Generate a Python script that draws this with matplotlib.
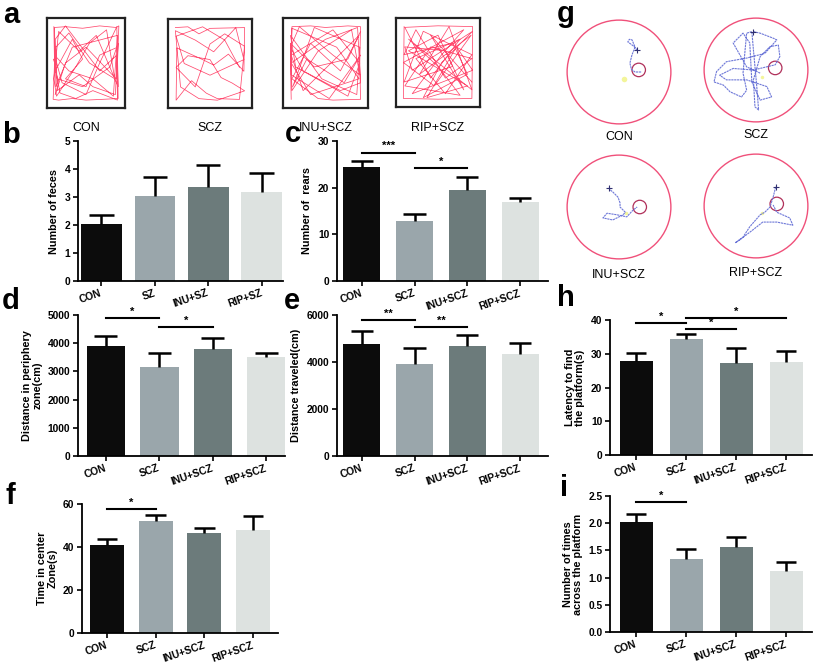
import numpy as np
import matplotlib
matplotlib.use('Agg')
from matplotlib import pyplot as plt
from matplotlib.patches import Circle

plt.rcParams['font.family'] = ['Liberation Sans', 'DejaVu Sans']

W, H = 817, 663

# ---- data -------------------------------------------------------------
groups_sz = ['CON', 'SZ', 'INU+SZ', 'RIP+SZ']
groups = ['CON', 'SCZ', 'INU+SCZ', 'RIP+SCZ']
bar_colors = ['#0c0c0c', '#9aa6ab', '#6c7b7b', '#dde2e0']

feces_mean = [2.02, 3.03, 3.35, 3.18]
feces_err = [0.33, 0.67, 0.80, 0.67]

rears_mean = [24.5, 12.8, 19.5, 17.0]
rears_err = [1.3, 1.6, 2.8, 0.7]

periphery_mean = [3900, 3150, 3800, 3500]
periphery_err = [350, 500, 370, 150]

traveled_mean = [4750, 3920, 4680, 4350]
traveled_err = [560, 690, 450, 460]

center_mean = [41.0, 52.0, 46.7, 48.0]
center_err = [2.6, 3.0, 2.0, 6.6]

latency_mean = [27.8, 34.5, 27.2, 27.5]
latency_err = [2.4, 1.4, 4.4, 3.4]

crossings_mean = [2.02, 1.35, 1.57, 1.12]
crossings_err = [0.14, 0.18, 0.18, 0.17]

# open-field tracks (unit square, rough waypoints)
track_con_x = [0.03, 0.04, 0.02, 0.10, 0.30, 0.50, 0.75, 0.97, 0.96, 0.98, 0.94, 0.70, 0.45, 0.20,
               0.04, 0.05, 0.30, 0.45, 0.20, 0.50, 0.70, 0.96, 0.93, 0.60, 0.40, 0.08, 0.06, 0.25,
               0.55, 0.92, 0.80, 0.55, 0.35, 0.07, 0.03, 0.10, 0.40, 0.65, 0.97, 0.95, 0.70, 0.50,
               0.15, 0.04, 0.25, 0.60, 0.90, 0.96, 0.30, 0.06, 0.05, 0.20, 0.70, 0.95, 0.96, 0.60,
               0.35, 0.12, 0.03, 0.08, 0.45, 0.85, 0.97, 0.94, 0.50, 0.20, 0.05]
track_con_y = [0.96, 0.50, 0.04, 0.03, 0.05, 0.03, 0.04, 0.05, 0.50, 0.97, 0.95, 0.97, 0.94, 0.96,
               0.95, 0.40, 0.80, 0.55, 0.30, 0.20, 0.60, 0.70, 0.10, 0.20, 0.35, 0.15, 0.70, 0.88,
               0.50, 0.30, 0.92, 0.75, 0.45, 0.08, 0.30, 0.90, 0.65, 0.85, 0.20, 0.96, 0.50, 0.10,
               0.25, 0.60, 0.40, 0.30, 0.08, 0.85, 0.70, 0.20, 0.80, 0.97, 0.40, 0.60, 0.03, 0.15,
               0.05, 0.12, 0.55, 0.30, 0.20, 0.45, 0.75, 0.30, 0.70, 0.50, 0.10]
track_scz_x = [0.03, 0.20, 0.35, 0.50, 0.97, 0.96, 0.75, 0.55, 0.40, 0.05, 0.04, 0.25, 0.45, 0.60,
               0.90, 0.97, 0.70, 0.50, 0.30, 0.04, 0.20, 0.50, 0.65, 0.80, 0.97, 0.60, 0.35, 0.10,
               0.03, 0.30, 0.55, 0.85, 0.96, 0.50, 0.15, 0.04, 0.40, 0.70, 0.90]
track_scz_y = [0.96, 0.97, 0.88, 0.95, 0.96, 0.40, 0.62, 0.48, 0.55, 0.70, 0.03, 0.28, 0.12, 0.05,
               0.04, 0.72, 0.88, 0.75, 0.20, 0.45, 0.60, 0.55, 0.32, 0.25, 0.15, 0.03, 0.05, 0.20,
               0.92, 0.80, 0.65, 0.96, 0.55, 0.35, 0.50, 0.85, 0.97, 0.80, 0.45]
track_inu_x = [0.04, 0.03, 0.05, 0.30, 0.50, 0.80, 0.97, 0.96, 0.97, 0.60, 0.40, 0.05, 0.30, 0.70,
               0.95, 0.20, 0.04, 0.60, 0.96, 0.80, 0.10, 0.03, 0.45, 0.92, 0.96, 0.35, 0.06, 0.25,
               0.75, 0.97, 0.55, 0.04, 0.05, 0.65, 0.95, 0.30, 0.04, 0.50, 0.93, 0.97, 0.70, 0.20,
               0.03, 0.15, 0.60, 0.96, 0.85, 0.40, 0.05, 0.03, 0.35, 0.80, 0.97]
track_inu_y = [0.04, 0.50, 0.96, 0.97, 0.95, 0.97, 0.96, 0.50, 0.04, 0.03, 0.05, 0.30, 0.75, 0.40,
               0.85, 0.15, 0.60, 0.92, 0.50, 0.08, 0.45, 0.85, 0.30, 0.10, 0.70, 0.95, 0.20, 0.55,
               0.25, 0.60, 0.05, 0.35, 0.94, 0.70, 0.30, 0.10, 0.50, 0.80, 0.95, 0.25, 0.15, 0.40,
               0.70, 0.96, 0.60, 0.35, 0.92, 0.65, 0.15, 0.75, 0.45, 0.55, 0.90]
track_rip_x = [0.04, 0.03, 0.50, 0.96, 0.97, 0.50, 0.05, 0.40, 0.80, 0.20, 0.60, 0.96, 0.30, 0.04,
               0.70, 0.50, 0.10, 0.90, 0.35, 0.75, 0.97, 0.15, 0.55, 0.85, 0.03, 0.45, 0.95, 0.25,
               0.65, 0.96, 0.10, 0.50, 0.80, 0.05, 0.40, 0.96, 0.60, 0.20, 0.04, 0.70, 0.90, 0.30,
               0.55, 0.97, 0.15, 0.05, 0.60, 0.85, 0.40, 0.96]
track_rip_y = [0.96, 0.04, 0.03, 0.04, 0.96, 0.97, 0.95, 0.30, 0.80, 0.55, 0.10, 0.60, 0.90, 0.25,
               0.45, 0.85, 0.65, 0.20, 0.05, 0.70, 0.40, 0.10, 0.60, 0.92, 0.50, 0.20, 0.85, 0.35,
               0.96, 0.15, 0.80, 0.45, 0.08, 0.20, 0.70, 0.55, 0.30, 0.92, 0.60, 0.75, 0.35, 0.05,
               0.50, 0.90, 0.40, 0.70, 0.65, 0.15, 0.85, 0.25]

# water maze swim paths (units of pool radius, pool centre at 0,0)
swim_con_x = [0.35, 0.28, 0.17, 0.20, 0.25, 0.31, 0.25, 0.21, 0.24, 0.31, 0.44]
swim_con_y = [0.42, 0.50, 0.58, 0.63, 0.62, 0.48, 0.33, 0.17, 0.05, 0.0, 0.0]
swim_scz_x = [-0.05, 0.08, 0.34, 0.40, 0.17, -0.18, -0.57, -0.76, -0.81, -0.63, -0.50, -0.28, -0.18,
              -0.25, -0.21, -0.18, -0.08, -0.05, 0.01, 0.05, -0.02, -0.05, 0.08, 0.27, 0.43, 0.46,
              0.37, -0.05, -0.44, -0.70, -0.57, -0.18, 0.21, 0.30, 0.08, -0.08, -0.12, -0.25, -0.44,
              -0.18, 0.08]
swim_scz_y = [0.74, 0.71, 0.61, 0.58, 0.32, 0.23, 0.16, -0.03, -0.23, -0.29, -0.42, -0.52, -0.39,
              -0.06, 0.39, 0.71, 0.74, 0.39, -0.26, -0.77, -0.71, -0.19, 0.26, 0.45, 0.48, 0.26,
              0.10, 0.0, 0.03, -0.10, -0.19, -0.19, -0.32, -0.52, -0.58, -0.23, 0.52, 0.71, 0.52,
              0.06, -0.06]
swim_inu_x = [-0.20, -0.17, -0.12, -0.02, 0.02, 0.02, 0.12, 0.08, -0.12, -0.31, -0.23, -0.04, 0.15,
              0.27, 0.35]
swim_inu_y = [0.37, 0.33, 0.29, 0.19, 0.08, 0.0, -0.10, -0.15, -0.25, -0.21, -0.12, -0.15, -0.19,
              -0.06, 0.0]
swim_rip_x = [0.38, 0.33, 0.27, 0.17, 0.08, -0.12, -0.25, -0.40, -0.31, -0.06, 0.13, 0.40, 0.71,
              0.65, 0.40, 0.33]
swim_rip_y = [0.37, 0.17, -0.02, -0.12, -0.17, -0.40, -0.60, -0.71, -0.65, -0.46, -0.31, -0.31,
              -0.37, -0.23, -0.12, 0.02]
platform_x = [0.38, 0.37, 0.40, 0.40]
platform_y = [0.04, 0.04, 0.0, 0.04]
yellow_x = [0.10, 0.12, 0.13, 0.12]
yellow_y = [-0.13, -0.13, -0.12, -0.13]


fig = plt.figure(figsize=(W / 100, H / 100), dpi=100)


def px_axes(x0, y0, x1, y1):
    return fig.add_axes([x0 / W, 1 - y1 / H, (x1 - x0) / W, (y1 - y0) / H])


def panel_letter(x, y, s):
    fig.text(x / W, 1 - y / H, s, fontsize=21, fontweight='bold', va='baseline', ha='left')


def bar_panel(ax, labels, means, errs, ylim, yticks, ylabel, xlim, width, sigs=(), fmt=None):
    x = np.arange(len(means))
    means = np.asarray(means)
    errs = np.asarray(errs)
    ax.bar(x, means, width=width, color=bar_colors, edgecolor='none', zorder=2)
    ax.vlines(x, means, means + errs, color='black', lw=1.8, zorder=3)
    ax.hlines(means + errs, x - width * 0.3, x + width * 0.3, color='black', lw=1.8, zorder=3)
    for i, j, y, s in sigs:
        ax.plot([i, j], [y, y], color='black', lw=1.5, clip_on=False)
        ax.text((i + j) / 2, y + (ylim[1] - ylim[0]) * 0.01, s, ha='center', va='bottom',
                fontsize=8, fontweight='bold')
    ax.set_xlim(*xlim)
    ax.set_ylim(*ylim)
    ax.set_yticks(yticks)
    if fmt:
        ax.set_yticklabels([fmt.format(t) for t in yticks])
    ax.set_xticks(x)
    ax.set_xticklabels(labels, rotation=19, ha='right', va='center', rotation_mode='anchor')
    ax.set_ylabel(ylabel, fontsize=7.8, fontweight='bold', linespacing=1.0)
    for sp in ['top', 'right']:
        ax.spines[sp].set_visible(False)
    for sp in ['left', 'bottom']:
        ax.spines[sp].set_linewidth(1.3)
    ax.tick_params(axis='both', width=1.2, length=3.5, labelsize=7.4, pad=2)
    ax.tick_params(axis='x', pad=5)
    for lab in ax.get_xticklabels() + ax.get_yticklabels():
        lab.set_fontweight('bold')
    ax.patch.set_alpha(0)


# ---- panel a: open-field tracks --------------------------------------
tracks = [(track_con_x, track_con_y), (track_scz_x, track_scz_y),
          (track_inu_x, track_inu_y), (track_rip_x, track_rip_y)]
boxes_a = [(47, 18, 125, 108), (168, 19, 252, 108), (283, 18, 368, 108), (396, 18, 480, 107)]
for (tx, ty), (x0, y0, x1, y1), name in zip(tracks, boxes_a, groups):
    ax = px_axes(x0, y0, x1, y1)
    ax.plot(tx, ty, color='#ff2a55', lw=0.55, alpha=0.85)
    ax.set_xlim(-0.07, 1.07)
    ax.set_ylim(-0.07, 1.07)
    ax.set_xticks([])
    ax.set_yticks([])
    for sp in ax.spines.values():
        sp.set_linewidth(1.6)
        sp.set_color('#222222')
    fig.text((x0 + x1) / 2 / W, 1 - 128 / H, name, ha='center', va='center', fontsize=9)

# ---- panel g: water maze ---------------------------------------------
swims = [(swim_con_x, swim_con_y), (swim_scz_x, swim_scz_y),
         (swim_inu_x, swim_inu_y), (swim_rip_x, swim_rip_y)]
centres_g = [(619, 72), (756, 70), (619, 207), (756, 206)]
label_y_g = [137, 135, 275, 273]
for k, ((sx, sy), (cx, cy)) in enumerate(zip(swims, centres_g)):
    r = 55
    ax = px_axes(cx - r, cy - r, cx + r, cy + r)
    ax.set_xlim(-1.06, 1.06)
    ax.set_ylim(-1.06, 1.06)
    ax.axis('off')
    ax.add_patch(Circle((0, 0), 1.0, fill=False, ec='#f0507a', lw=1.0))
    ax.add_patch(Circle((platform_x[k], platform_y[k]), 0.13, fill=False, ec='#b0305a', lw=0.9))
    ax.plot(yellow_x[k], yellow_y[k], 'o', color='#f3f59a', ms=4 if k == 0 else 2.5, mec='none')
    ax.plot(sx, sy, color='#6e78d8', lw=0.8, ls=(0, (2, 0.6)))
    ax.plot(sx[0], sy[0], '+', color='#303070', ms=4, mew=0.8)
    fig.text(cx / W, 1 - label_y_g[k] / H, groups[k], ha='center', va='center', fontsize=9)

# ---- bar panels ------------------------------------------------------
ax_b = px_axes(78, 141, 283, 281)
bar_panel(ax_b, groups_sz, feces_mean, feces_err, (0, 5), [0, 1, 2, 3, 4, 5],
          'Number of feces', (-0.44, 3.4), 0.76)

ax_c = px_axes(337, 141, 548, 281)
bar_panel(ax_c, groups, rears_mean, rears_err, (0, 30), [0, 10, 20, 30],
          'Number of  rears', (-0.47, 3.53), 0.7,
          sigs=[(0, 1, 27.5, '***'), (1, 2, 24.2, '*')])

ax_d = px_axes(78, 315, 285, 456)
bar_panel(ax_d, groups, periphery_mean, periphery_err, (0, 5000), [0, 1000, 2000, 3000, 4000, 5000],
          'Distance in periphery\nzone(cm)', (-0.52, 3.35), 0.72,
          sigs=[(0, 1, 4880, '*'), (1, 2, 4560, '*')])

ax_e = px_axes(337, 315, 548, 456)
bar_panel(ax_e, groups, traveled_mean, traveled_err, (0, 6000), [0, 2000, 4000, 6000],
          'Distance traveled(cm)', (-0.47, 3.53), 0.7,
          sigs=[(0, 1, 5790, '**'), (1, 2, 5490, '**')])

ax_f = px_axes(82, 504, 278, 633)
bar_panel(ax_f, groups, center_mean, center_err, (0, 60), [0, 20, 40, 60],
          'Time in center\nZone(s)', (-0.51, 3.51), 0.7,
          sigs=[(0, 1, 57.7, '*')])

ax_h = px_axes(610, 320, 812, 455)
bar_panel(ax_h, groups, latency_mean, latency_err, (0, 40), [0, 10, 20, 30, 40],
          'Latency to find\nthe platform(s)', (-0.52, 3.52), 0.66,
          sigs=[(0, 1, 39.2, '*'), (1, 3, 40.6, '*'), (1, 2, 37.3, '*')])

ax_i = px_axes(610, 496, 812, 632)
bar_panel(ax_i, groups, crossings_mean, crossings_err, (0, 2.5), [0, 0.5, 1.0, 1.5, 2.0, 2.5],
          'Number of times\nacross the platform', (-0.52, 3.52), 0.66,
          sigs=[(0, 1, 2.39, '*')], fmt='{:.1f}')

# ---- panel letters ---------------------------------------------------
panel_letter(3, 23, 'a')
panel_letter(2, 143, 'b')
panel_letter(285, 142, 'c')
panel_letter(2, 309, 'd')
panel_letter(284, 309, 'e')
panel_letter(5, 504, 'f')
panel_letter(557, 22, 'g')
panel_letter(557, 306, 'h')
panel_letter(560, 496, 'i')

fig.savefig('out.png', dpi=100)
